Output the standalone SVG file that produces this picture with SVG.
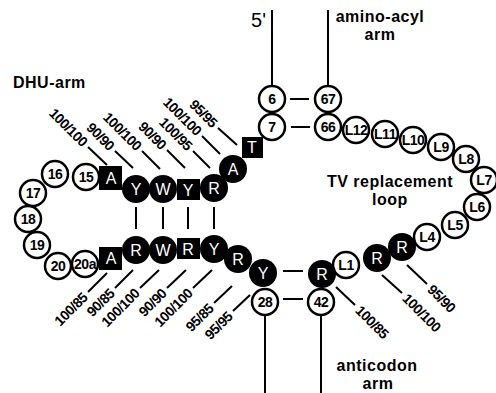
<svg xmlns="http://www.w3.org/2000/svg" width="496" height="393" viewBox="0 0 496 393">
<style>
.o{fill:#fff;stroke:#000;stroke-width:2.5}
.f{fill:#000}
.n{font-family:"Liberation Sans",Arial,sans-serif;font-weight:bold;font-size:14px;letter-spacing:-0.5px;text-anchor:middle;fill:#000}
.w{font-family:"Liberation Sans",Arial,sans-serif;font-size:16px;text-anchor:middle;fill:#fff}
.lb{font-family:"Liberation Sans",Arial,sans-serif;font-weight:bold;font-size:14px;letter-spacing:-0.5px;fill:#000}
.t{font-family:"Liberation Sans",Arial,sans-serif;font-weight:bold;font-size:16px;letter-spacing:0.5px;fill:#000}
.c line{stroke:#000;stroke-width:2}
.e{text-anchor:end}
</style>
<rect width="496" height="393" fill="#fff"/>
<g class="c" id="connectors">
<line x1="272" y1="10" x2="272" y2="86"/>
<line x1="328" y1="10" x2="328" y2="86"/>
<line x1="265" y1="315" x2="265" y2="393"/>
<line x1="321" y1="315" x2="321" y2="393"/>
<line x1="290" y1="99" x2="309" y2="99"/>
<line x1="291" y1="127" x2="310" y2="127"/>
<line x1="283" y1="271" x2="303" y2="271"/>
<line x1="283" y1="299" x2="303" y2="299"/>
<line x1="136" y1="207" x2="136" y2="229"/>
<line x1="163" y1="207" x2="163" y2="229"/>
<line x1="188" y1="207" x2="188" y2="229"/>
<line x1="214" y1="207" x2="214" y2="229"/>
<line x1="88" y1="147" x2="107" y2="165"/>
<line x1="115" y1="151" x2="133" y2="168"/>
<line x1="142" y1="151" x2="160" y2="169"/>
<line x1="167" y1="150" x2="185" y2="168"/>
<line x1="193" y1="151" x2="210" y2="168"/>
<line x1="202" y1="136" x2="220" y2="154"/>
<line x1="218" y1="128" x2="237" y2="145"/>
<line x1="107" y1="273" x2="88" y2="292"/>
<line x1="133" y1="270" x2="115" y2="288"/>
<line x1="159" y1="270" x2="140" y2="288"/>
<line x1="186" y1="270" x2="167" y2="288"/>
<line x1="212" y1="270" x2="193" y2="288"/>
<line x1="232" y1="286" x2="214" y2="303"/>
<line x1="250" y1="295" x2="233" y2="311"/>
<line x1="336" y1="287" x2="355" y2="305"/>
<line x1="382" y1="275" x2="402" y2="293"/>
<line x1="407" y1="265" x2="427" y2="284"/>
</g>
<g id="labels">
<text class="lb e" dy=".35em" transform="translate(85,144) rotate(45)">100/100</text>
<text class="lb e" dy=".35em" transform="translate(112,148) rotate(45)">90/90</text>
<text class="lb e" dy=".35em" transform="translate(139,148) rotate(45)">100/100</text>
<text class="lb e" dy=".35em" transform="translate(164,147) rotate(45)">90/90</text>
<text class="lb e" dy=".35em" transform="translate(190,148) rotate(45)">100/95</text>
<text class="lb e" dy=".35em" transform="translate(199,133) rotate(45)">100/100</text>
<text class="lb e" dy=".35em" transform="translate(215,125) rotate(45)">95/95</text>
<text class="lb e" dy=".35em" transform="translate(85,295) rotate(-45)">100/85</text>
<text class="lb e" dy=".35em" transform="translate(112,291) rotate(-45)">90/85</text>
<text class="lb e" dy=".35em" transform="translate(137,291) rotate(-45)">100/100</text>
<text class="lb e" dy=".35em" transform="translate(164,291) rotate(-45)">90/90</text>
<text class="lb e" dy=".35em" transform="translate(190,291) rotate(-45)">100/100</text>
<text class="lb e" dy=".35em" transform="translate(211,306) rotate(-45)">95/85</text>
<text class="lb e" dy=".35em" transform="translate(230,314) rotate(-45)">95/95</text>
<text class="lb" dy=".35em" transform="translate(358,308) rotate(45)">100/85</text>
<text class="lb" dy=".35em" transform="translate(405,296) rotate(45)">100/100</text>
<text class="lb" dy=".35em" transform="translate(430,287) rotate(45)">95/90</text>
<text x="266" y="27" text-anchor="end" font-family="Liberation Sans, Arial, sans-serif" font-size="20">5'</text>
<text class="t" text-anchor="middle"><tspan x="380" y="22">amino-acyl</tspan><tspan x="380" y="40">arm</tspan></text>
<text class="t" x="13" y="88" font-size="17">DHU-arm</text>
<text class="t" text-anchor="middle"><tspan x="390" y="187">TV replacement</tspan><tspan x="390" y="205">loop</tspan></text>
<text class="t" text-anchor="middle"><tspan x="377" y="371">anticodon</tspan><tspan x="378" y="389">arm</tspan></text>
</g>
<g id="n6"><circle class="o" cx="272" cy="99" r="13"/><text class="n" x="272" y="104">6</text></g>
<g id="n7"><circle class="o" cx="272" cy="127" r="13"/><text class="n" x="272" y="132">7</text></g>
<g id="n67"><circle class="o" cx="328" cy="99" r="13"/><text class="n" x="328" y="104">67</text></g>
<g id="n66"><circle class="o" cx="328" cy="127" r="13"/><text class="n" x="328" y="132">66</text></g>
<g id="nL12"><circle class="o" cx="356" cy="130" r="13"/><text class="n" x="356" y="135">L12</text></g>
<g id="nL11"><circle class="o" cx="385" cy="134" r="13"/><text class="n" x="385" y="139">L11</text></g>
<g id="nL10"><circle class="o" cx="413" cy="140" r="13"/><text class="n" x="413" y="145">L10</text></g>
<g id="nL9"><circle class="o" cx="441" cy="147" r="13"/><text class="n" x="441" y="152">L9</text></g>
<g id="nL8"><circle class="o" cx="466" cy="159" r="13"/><text class="n" x="466" y="164">L8</text></g>
<g id="nL7"><circle class="o" cx="484" cy="180" r="13"/><text class="n" x="484" y="185">L7</text></g>
<g id="nL6"><circle class="o" cx="477" cy="207" r="13"/><text class="n" x="477" y="212">L6</text></g>
<g id="nL5"><circle class="o" cx="455" cy="225" r="13"/><text class="n" x="455" y="230">L5</text></g>
<g id="nL4"><circle class="o" cx="427" cy="237" r="13"/><text class="n" x="427" y="242">L4</text></g>
<g id="nR40b"><circle class="f" cx="402" cy="247" r="14"/><text class="w" x="402" y="253">R</text></g>
<g id="nR40a"><circle class="f" cx="377" cy="258" r="14"/><text class="w" x="377" y="264">R</text></g>
<g id="nL1"><circle class="o" cx="346" cy="265" r="13"/><text class="n" x="346" y="270">L1</text></g>
<g id="nR43"><circle class="f" cx="322" cy="274" r="14"/><text class="w" x="322" y="280">R</text></g>
<g id="n42"><circle class="o" cx="321" cy="302" r="13"/><text class="n" x="321" y="307">42</text></g>
<g id="n28"><circle class="o" cx="265" cy="302" r="13"/><text class="n" x="265" y="307">28</text></g>
<g id="nY27"><circle class="f" cx="263" cy="273" r="14"/><text class="w" x="263" y="279">Y</text></g>
<g id="nR26"><circle class="f" cx="238" cy="259" r="14"/><text class="w" x="238" y="265">R</text></g>
<g id="nY25"><circle class="f" cx="214" cy="249" r="14"/><text class="w" x="214" y="255">Y</text></g>
<g id="nR24"><rect class="f" x="177" y="238" width="23" height="21"/><text class="w" x="188" y="255">R</text></g>
<g id="nW23"><circle class="f" cx="163" cy="250" r="14"/><text class="w" x="163" y="256">W</text></g>
<g id="nR22"><circle class="f" cx="136" cy="250" r="14"/><text class="w" x="136" y="256">R</text></g>
<g id="nA21"><rect class="f" x="99" y="247" width="23" height="23"/><text class="w" x="111" y="264">A</text></g>
<g id="n20a"><circle class="o" cx="85" cy="264" r="13"/><text class="n" x="85" y="269" font-size="13">20a</text></g>
<g id="n20"><circle class="o" cx="58" cy="266" r="13"/><text class="n" x="58" y="271">20</text></g>
<g id="n19"><circle class="o" cx="37" cy="245" r="13"/><text class="n" x="37" y="250">19</text></g>
<g id="n18"><circle class="o" cx="28" cy="219" r="13"/><text class="n" x="28" y="224">18</text></g>
<g id="n17"><circle class="o" cx="33" cy="193" r="13"/><text class="n" x="33" y="198">17</text></g>
<g id="n16"><circle class="o" cx="55" cy="174" r="13"/><text class="n" x="55" y="179">16</text></g>
<g id="n15"><circle class="o" cx="86" cy="177" r="13"/><text class="n" x="86" y="182">15</text></g>
<g id="nA14"><rect class="f" x="99" y="166" width="23" height="24"/><text class="w" x="111" y="184">A</text></g>
<g id="nY13"><circle class="f" cx="136" cy="189" r="14"/><text class="w" x="136" y="195">Y</text></g>
<g id="nW12"><circle class="f" cx="163" cy="189" r="14"/><text class="w" x="163" y="195">W</text></g>
<g id="nY11"><rect class="f" x="177" y="179" width="23" height="21"/><text class="w" x="188" y="196">Y</text></g>
<g id="nR10"><circle class="f" cx="214" cy="188" r="14"/><text class="w" x="214" y="194">R</text></g>
<g id="nA9"><circle class="f" cx="233" cy="169" r="14"/><text class="w" x="233" y="175">A</text></g>
<g id="nT8"><rect class="f" x="242" y="137" width="21" height="21"/><text class="w" x="252" y="153">T</text></g>
</svg>
